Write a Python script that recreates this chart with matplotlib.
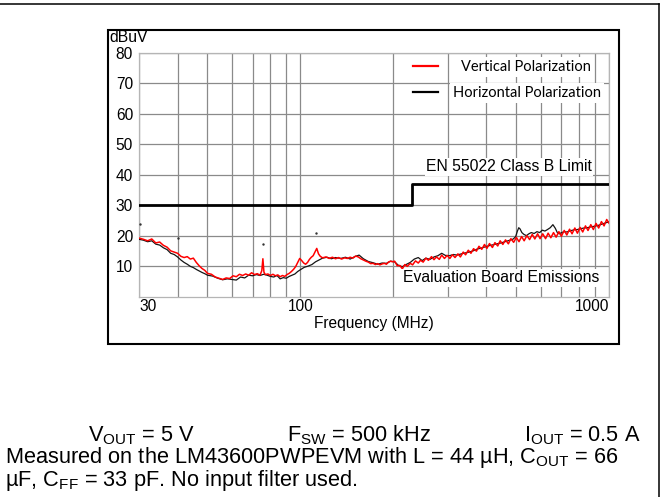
import matplotlib
matplotlib.use('Agg')
import matplotlib.pyplot as plt
from matplotlib.lines import Line2D
from matplotlib.patches import Rectangle
from matplotlib.ticker import NullFormatter

plt.rcParams['font.family'] = ['Liberation Sans', 'DejaVu Sans']
plt.rcParams['mathtext.fontset'] = 'custom'
plt.rcParams['mathtext.rm'] = 'Liberation Sans'
plt.rcParams['mathtext.it'] = 'Liberation Sans:italic'
plt.rcParams['mathtext.bf'] = 'Liberation Sans:bold'

# ---------------- data ----------------
series_names = ['Vertical Polarization', 'Horizontal Polarization']

red_freq = [30, 31, 32, 33, 34, 35, 36, 37, 38, 39, 40, 41, 42, 43, 44, 45, 46, 47, 48, 49, 50,
            51.5, 53, 54.5, 56, 57.5, 59, 60.5, 62, 63.5, 65, 66.5, 68, 69.5, 71, 72.5, 74,
            75, 75.6, 76.2, 77, 78.5, 80, 81.5, 83, 84.5, 86, 87.5, 89, 90.5, 92, 93.5, 95,
            96.5, 98, 99.5,
            101, 102.5, 104, 105.5, 107, 108.5, 110, 111.5, 113, 114.5, 116, 118, 121, 124,
            127, 130, 133, 136, 139, 142, 145, 148, 151, 154, 157, 160, 163, 166, 169, 172,
            175, 178, 181, 184, 187, 190, 193, 196, 199,
            202, 206, 210, 214, 218, 222, 227, 231, 236, 241, 245, 250, 255, 260, 266, 271,
            276, 282, 287, 293, 299, 305, 311, 317, 324, 330, 337, 343, 350, 357, 364, 372,
            379, 387, 395, 402, 410, 419, 427, 436, 444, 453, 462, 472, 481, 491, 501, 511,
            521, 531, 542, 553, 564, 575, 587, 598, 610, 623, 635, 648, 661, 674, 688, 701,
            716, 730, 745, 759, 775, 790, 806, 822, 839, 855, 873, 890, 908, 926, 945, 964,
            983, 1000]
red_level = [19.2, 18.8, 18.3, 18.9, 17.6, 17.9, 16.8, 16.2, 15.0, 14.6, 14.2, 13.2, 12.8, 13.1,
             12.3, 12.6, 11.2, 10.1, 9.2, 8.6, 7.6,
             7.3, 6.4, 6.0, 5.6, 6.1, 5.9, 6.8, 6.5, 7.3, 6.9, 7.4, 7.0, 7.8, 7.2, 7.5, 7.0,
             8.5, 12.4, 8.0, 7.2, 7.4, 6.9, 7.3, 6.8, 7.1, 6.5, 6.9, 6.6, 7.2, 7.6, 8.2, 8.9,
             9.8, 11.2, 12.5,
             11.8, 11.0, 10.6, 11.2, 12.2, 12.9, 13.4, 14.6, 15.8, 14.0, 13.2, 12.7, 13.0, 12.5,
             12.9, 12.4, 12.8, 12.3, 12.7, 12.5, 12.9, 12.6, 13.3, 13.0, 12.4, 12.0, 11.6, 11.3,
             10.8, 10.9, 10.5, 10.8, 10.4, 10.7, 10.9, 10.6, 11.3, 11.6, 11.4,
             11.6, 10.1, 10.2, 9.1, 10.5, 9.9, 10.9, 10.4, 11.7, 11.0, 11.9, 11.3, 12.6, 11.9,
             13.1, 12.1, 13.0, 12.2, 13.6, 12.5, 13.5, 12.5, 13.7, 12.8, 14.0, 13.0, 14.6, 13.7,
             15.2, 14.2, 15.7, 14.9, 16.5, 15.5, 17.1, 15.8, 17.4, 16.1, 17.7, 16.6, 18.3, 17.1,
             18.6, 17.3, 19.0, 17.8, 19.4, 18.0, 19.7, 18.3, 20.0, 18.7, 20.4, 18.9, 20.6, 19.0,
             20.6, 19.0, 20.8, 19.3, 21.0, 19.5, 21.3, 19.8, 21.7, 20.2, 22.1, 20.6, 22.5, 20.8,
             22.7, 21.2, 23.2, 21.7, 23.6, 22.0, 24.0, 22.5, 24.6, 23.2, 25.3, 24.1]

black_freq = [30, 31, 32, 33, 34, 35, 36, 37, 38, 39, 40, 41, 42, 43, 44, 45, 46, 47, 48, 49, 50,
              52, 54, 56, 58, 60, 62, 64, 66, 68, 70, 72, 74, 76, 78, 80, 82, 84, 86, 88, 90,
              92, 94, 96, 98, 100, 103, 106, 109, 112, 115, 118, 122, 126, 130, 135, 140, 145,
              150, 155, 160, 166, 172, 178, 184, 190, 196, 202, 208, 214, 220, 227, 234, 241,
              248, 255, 263, 271, 279, 287, 295, 304, 313, 322, 332, 342, 352, 363, 374, 385,
              397, 409, 421, 434, 447, 460, 474, 488, 498, 505, 510, 515, 522, 530, 540, 550,
              560, 572, 584, 596, 608, 620, 632, 645, 658, 670, 680, 690, 700, 715, 730, 750,
              770, 790, 810, 830, 850, 875, 900, 925, 950, 975, 1000]
black_level = [18.8, 18.5, 18.0, 18.3, 17.2, 16.9, 16.0, 15.4, 14.2, 13.8,
               13.0, 12.0, 11.2, 10.6, 9.9, 9.5, 8.9, 8.4, 7.9, 7.5,
               7.0, 6.7, 6.0, 5.5, 5.8, 5.6, 5.4, 6.4, 6.1, 7.0,
               6.8, 7.2, 6.9, 7.3, 7.0, 6.6, 6.4, 6.9, 5.8, 6.2,
               6.0, 6.6, 7.0, 7.4, 8.2, 8.8, 9.6, 10.0, 10.5, 11.4,
               12.0, 12.6, 12.9, 12.4, 12.8, 12.5, 12.9, 12.3, 13.1, 13.6,
               12.4, 11.5, 11.1, 10.6, 11.0, 10.9, 11.6, 11.4, 10.2, 9.8,
               10.5, 11.2, 12.3, 12.8, 11.8, 12.6, 12.2, 13.0, 13.4, 14.2,
               13.5, 13.4, 13.8, 13.6, 14.0, 14.3, 14.6, 15.0, 15.6, 15.9,
               16.3, 16.7, 17.0, 17.3, 17.6, 18.0, 18.4, 18.8, 19.6, 21.5,
               22.6, 22.2, 21.0, 20.4, 20.0, 20.6, 21.0, 20.7, 21.3, 21.0,
               21.8, 21.5, 22.0, 22.6, 23.6, 22.4, 21.0, 20.6, 20.9, 21.3,
               21.2, 21.6, 21.9, 22.0, 22.3, 22.5, 22.6, 22.9, 23.1, 23.4,
               23.8, 24.2, 24.5]

peak_freq = [30.3, 40.2, 75.5, 112.6]
peak_level = [23.7, 19.1, 17.2, 20.8]

limit_freq = [30, 230, 1000]
limit_level = [30, 37, 37]

x_major_ticks = [30, 100, 1000]
x_tick_labels = ['30', '100', '1000']
x_minor_ticks = [40, 50, 60, 70, 80, 90, 200, 300, 400, 500, 600, 700, 800, 900]
y_ticks = [10, 20, 30, 40, 50, 60, 70, 80]
y_tick_labels = ['10', '20', '30', '40', '50', '60', '70', '80']

# ---------------- figure ----------------
W, H = 661, 497
fig = plt.figure(figsize=(W / 100, H / 100), dpi=100)


def fx(px):
    return px / W


def fy(py):
    return 1 - py / H


ax = fig.add_axes([fx(139), fy(296.5), fx(609) - fx(139), fy(53) - fy(296.5)])
ax.set_xscale('log')
ax.set_xlim(30, 1000)
ax.set_ylim(0, 80)
ax.set_xticks(x_major_ticks)
ax.set_xticklabels(x_tick_labels)
ax.set_xticks(x_minor_ticks, minor=True)
ax.xaxis.set_minor_formatter(NullFormatter())
ax.set_yticks(y_ticks)
ax.set_yticklabels(y_tick_labels)
ax.tick_params(which='both', length=0, labelsize=11.2)
ax.tick_params(axis='y', pad=4.3)
ax.tick_params(axis='x', pad=1.5)
xl = ax.get_xticklabels()
xl[0].set_ha('left')
xl[2].set_ha('right')

grid_col = '#8a8a8a'
ax.set_axisbelow(True)
ax.grid(True, which='both', axis='x', color=grid_col, lw=0.9)
ax.grid(True, which='major', axis='y', color=grid_col, lw=0.9)
for s in ax.spines.values():
    s.set_color('#b5b5b5')
    s.set_linewidth(0.9)

ax.plot(black_freq, black_level, color='#151515', lw=0.9, zorder=3)
ax.plot(red_freq, red_level, color='#ff0000', lw=1.1, zorder=4)
ax.plot(limit_freq, limit_level, drawstyle='steps-post', color='black', lw=2.0, zorder=5)
ax.scatter(peak_freq, peak_level, s=3, color='#333333', zorder=5, linewidths=0)

box = dict(facecolor='white', edgecolor='none', pad=1.0)
ax.text(474, 42.6, 'EN 55022 Class B Limit', ha='center', va='center', fontsize=11.3,
        bbox=box, zorder=6)
ax.text(447, 6.1, 'Evaluation Board Emissions', ha='center', va='center', fontsize=11.3,
        bbox=box, zorder=6)

ax.set_xlabel('Frequency (MHz)', fontsize=11.2, labelpad=1.7)

# legend, built from the plotted series styles
leg_fs = 10.5
fs_px = leg_fs * 100 / 72
leg_font = {'family': ['Lato', 'DejaVu Sans'], 'size': leg_fs}
leg1 = ax.legend(handles=[Line2D([], [], color='#ff0000', lw=1.6)], labels=[series_names[0]],
                 loc='center left', bbox_to_anchor=(0.583, 0.9425), frameon=False,
                 borderpad=0, borderaxespad=0, handlelength=25 / fs_px,
                 handletextpad=23 / fs_px, prop=leg_font)
for t in leg1.get_texts():
    t.set_bbox(dict(facecolor='white', edgecolor='none', pad=2))
ax.add_artist(leg1)
leg2 = ax.legend(handles=[Line2D([], [], color='black', lw=1.6)], labels=[series_names[1]],
                 loc='center left', bbox_to_anchor=(0.583, 0.8357), frameon=False,
                 borderpad=0, borderaxespad=0, handlelength=25 / fs_px,
                 handletextpad=15 / fs_px, prop=leg_font)
for t in leg2.get_texts():
    t.set_bbox(dict(facecolor='white', edgecolor='none', pad=2))

fig.text(fx(109), fy(37), 'dBuV', ha='left', va='center', fontsize=11.3)

# chart box and page frame
fig.patches.append(Rectangle((fx(108), fy(344)), fx(619) - fx(108), fy(30) - fy(344),
                             transform=fig.transFigure, fill=False, edgecolor='black', lw=1.5))
fig.add_artist(Line2D([0, fx(659)], [fy(4), fy(4)], transform=fig.transFigure,
                      color='black', lw=1.1))
fig.add_artist(Line2D([fx(659), fx(659)], [0, fy(4)], transform=fig.transFigure,
                      color='black', lw=1.1))

# caption text
cap_fs = 15.7
fig.text(fx(141.5), fy(441.7), r'V$_{\mathrm{OUT}}$ = 5 V', ha='center', va='baseline', fontsize=cap_fs)
fig.text(fx(359.5), fy(441.7), r'F$_{\mathrm{SW}}$ = 500 kHz', ha='center', va='baseline', fontsize=cap_fs)
fig.text(fx(582.5), fy(441.7), r'I$_{\mathrm{OUT}}$ = 0.5 A', ha='center', va='baseline', fontsize=cap_fs)
fig.text(fx(5), fy(463.3), r'Measured on the LM43600PWPEVM with L = 44 µH, C$_{\mathrm{OUT}}$ = 66',
         ha='left', va='baseline', fontsize=cap_fs)
fig.text(fx(5), fy(486), r'µF, C$_{\mathrm{FF}}$ = 33 pF. No input filter used.',
         ha='left', va='baseline', fontsize=cap_fs)

fig.savefig('out.png', dpi=100)
